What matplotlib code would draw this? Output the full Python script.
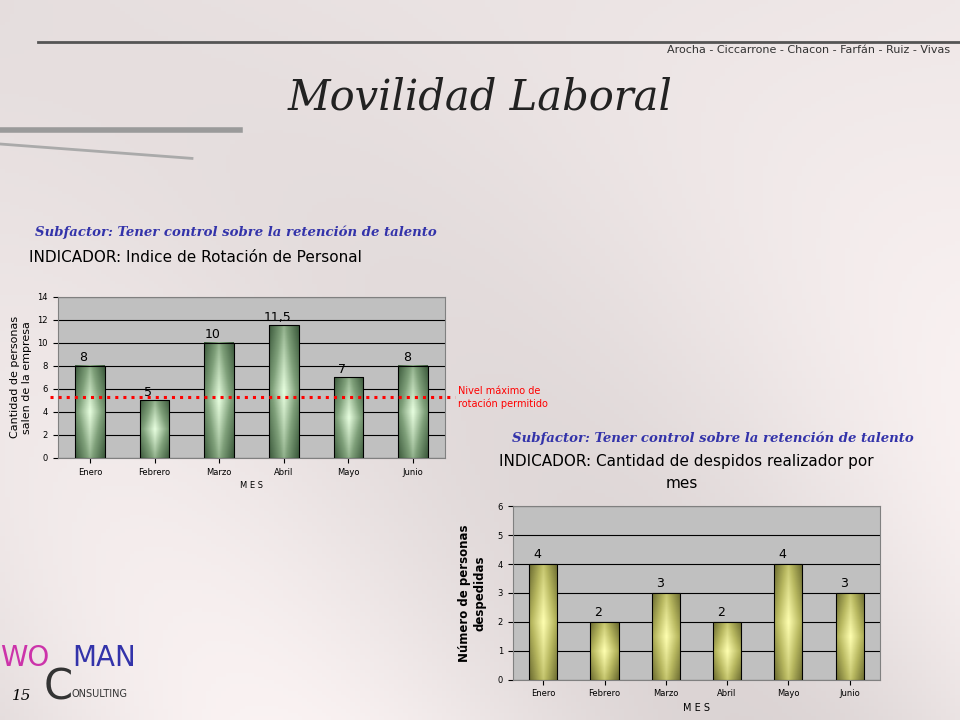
import numpy as np
import matplotlib.pyplot as plt
from matplotlib.colors import LinearSegmentedColormap

meses = ["Enero", "Febrero", "Marzo", "Abril", "Mayo", "Junio"]
rotacion = [8, 5, 10, 11.5, 7, 8]
rotacion_lbl = ["8", "5", "10", "11,5", "7", "8"]
nivel_max = 5.3
despidos = [4, 2, 3, 2, 4, 3]

fig = plt.figure(figsize=(9.6, 7.2), dpi=100)

# background gradient
bg = fig.add_axes([0, 0, 1, 1])
yy, xx = np.mgrid[0:1:200j, 0:1:200j]
shade = 0.88 + 0.07 * np.sin(xx * 6 + yy * 3) * (1 - yy) + 0.04 * xx
img = np.dstack([shade + 0.02, shade - 0.01, shade - 0.01]).clip(0, 1)
bg.imshow(img, extent=[0, 1, 0, 1], aspect="auto", origin="lower")
bg.plot([0.04, 1], [0.942, 0.942], color="#555555", lw=2)
bg.plot([0, 0.25], [0.82, 0.82], color="#9a9a9a", lw=4)
bg.plot([0, 0.2], [0.80, 0.78], color="#aaaaaa", lw=2)
bg.set_xlim(0, 1); bg.set_ylim(0, 1); bg.axis("off")

fig.text(0.99, 0.937, "Arocha - Ciccarrone - Chacon - Farfán - Ruiz - Vivas",
         ha="right", va="top", fontsize=8, color="#333333")
fig.text(0.5, 0.865, "Movilidad Laboral", ha="center", va="center",
         family="DejaVu Serif", style="italic", fontsize=30, color="#222222")

green = LinearSegmentedColormap.from_list("g", ["#3c5a3c", "#7fa07a", "#e8ffe0"])
olive = LinearSegmentedColormap.from_list("o", ["#6a6a30", "#b8b860", "#ffffb0"])


def gradient_bars(ax, values, cmap):
    gx = np.abs(np.linspace(-1, 1, 50))
    gy = np.abs(np.linspace(-1, 1, 50))
    g2 = 1 - np.outer(np.ones(50), gx) * 0.6 - np.outer(gy, np.ones(50)) * 0.4
    for i, v in enumerate(values):
        ax.imshow(g2, extent=[i - 0.23, i + 0.23, 0, v], aspect="auto",
                  cmap=cmap, vmin=0, vmax=1, zorder=3, origin="lower")
        ax.add_patch(plt.Rectangle((i - 0.23, 0), 0.46, v, fill=False,
                                   ec="black", lw=0.8, zorder=4))


def style(ax, ymax, ystep):
    ax.set_facecolor("#c0c0c0")
    ax.set_xlim(-0.5, 5.5)
    ax.set_ylim(0, ymax)
    ax.set_yticks(np.arange(0, ymax + 0.1, ystep))
    ax.yaxis.grid(True, color="black", lw=0.8)
    ax.set_axisbelow(True)
    ax.set_xticks(range(6))
    ax.set_xticklabels(meses, fontsize=6)
    ax.tick_params(axis="y", labelsize=6)
    for s in ax.spines.values():
        s.set_color("#808080")


# chart 1
fig.text(0.036, 0.672, "Subfactor: Tener control sobre la retención de talento",
         family="DejaVu Serif", style="italic", weight="bold", fontsize=9.5, color="#3333aa")
fig.text(0.03, 0.636, "INDICADOR: Indice de Rotación de Personal", fontsize=11)
ax1 = fig.add_axes([0.060, 0.364, 0.404, 0.224])
style(ax1, 14, 2)
gradient_bars(ax1, rotacion, green)
for i, (v, l) in enumerate(zip(rotacion, rotacion_lbl)):
    ax1.text(i - 0.1, v + 0.4, l, ha="center", fontsize=9)
ax1.plot([-0.62, 5.65], [nivel_max, nivel_max], color="red", ls=":", lw=2.2,
         clip_on=False, zorder=5)
ax1.set_xlabel("M E S", fontsize=6, labelpad=3)
ax1.set_ylabel("Cantidad de personas\nsalen de la empresa", fontsize=8, labelpad=4)
fig.text(0.477, 0.448, "Nivel máximo de\nrotación permitido", fontsize=7, color="red",
         va="center")

# chart 2
fig.text(0.533, 0.386, "Subfactor: Tener control sobre la retención de talento",
         family="DejaVu Serif", style="italic", weight="bold", fontsize=9.5, color="#3333aa")
fig.text(0.52, 0.353, "INDICADOR: Cantidad de despidos realizador por", fontsize=11)
fig.text(0.71, 0.322, "mes", ha="center", fontsize=11)
ax2 = fig.add_axes([0.534, 0.056, 0.383, 0.241])
style(ax2, 6, 1)
gradient_bars(ax2, despidos, olive)
for i, v in enumerate(despidos):
    ax2.text(i - 0.1, v + 0.2, str(v), ha="center", fontsize=9)
ax2.set_xlabel("M E S", fontsize=7, labelpad=3)
ax2.set_ylabel("Número de personas\ndespedidas", fontsize=8.5, weight="bold", labelpad=8)

# logo
fig.text(0.0, 0.075, "WO", fontsize=20, color="#cc33aa")
fig.text(0.075, 0.075, "MAN", fontsize=20, color="#3333aa")
fig.text(0.045, 0.028, "C", fontsize=30, color="#333333")
fig.text(0.075, 0.032, "ONSULTING", fontsize=7, color="#333333")
fig.text(0.012, 0.028, "15", fontsize=11, style="italic", family="DejaVu Serif")

fig.savefig("out.png", dpi=100)
